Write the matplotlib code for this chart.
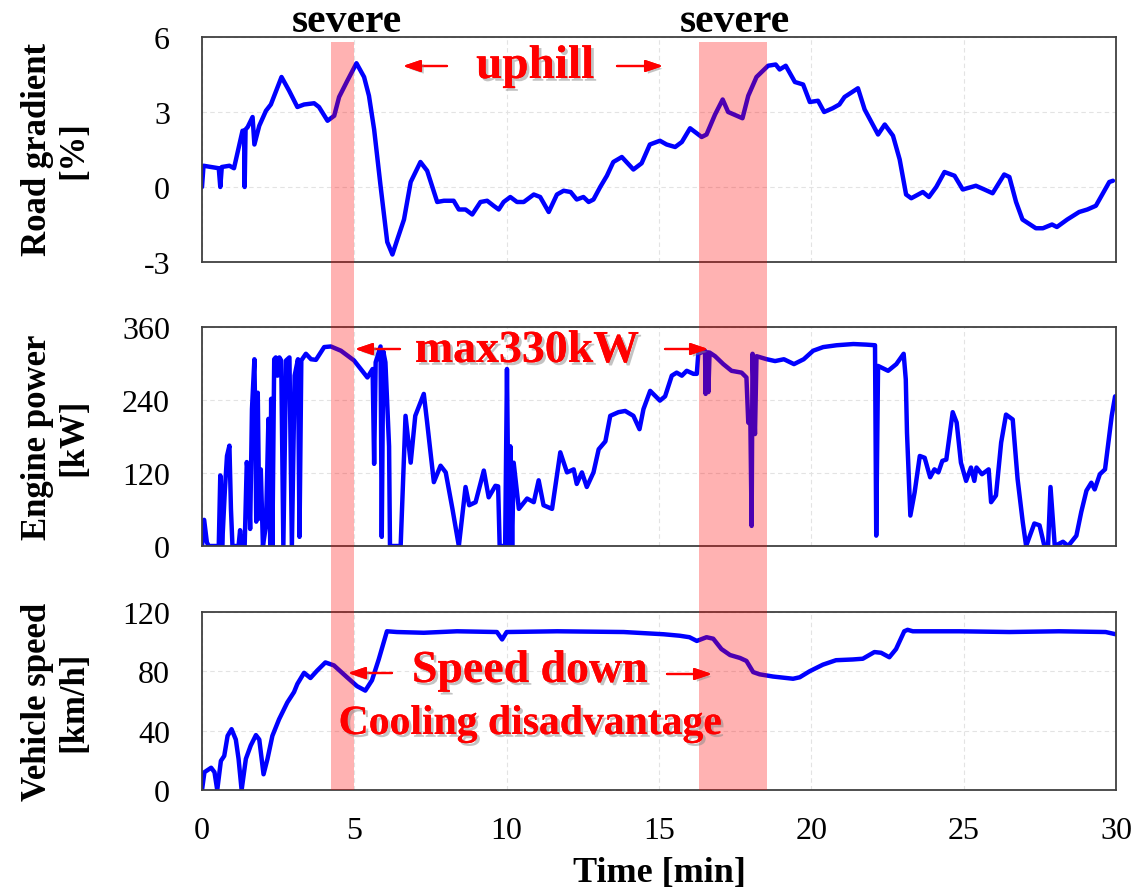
import matplotlib
matplotlib.use("Agg")
import matplotlib.pyplot as plt
import matplotlib.patheffects as pe
import matplotlib.transforms as mtransforms
from matplotlib.patches import Rectangle, FancyArrowPatch

# ---------------- data ----------------
grad_t = [0, 0.05, 0.3, 0.55, 0.6, 0.65, 0.9, 1.05, 1.17, 1.33,
          1.38, 1.4, 1.43, 1.5, 1.66, 1.72, 1.88, 2.1, 2.26, 2.61,
          2.86, 3.13, 3.35, 3.68, 3.84, 4.12, 4.34, 4.5, 4.77, 5.07,
          5.32, 5.48, 5.65, 5.86, 6.08, 6.25, 6.41, 6.63, 6.85, 7.17,
          7.39, 7.72, 7.94, 8.26, 8.43, 8.65, 8.87, 9.14, 9.36, 9.57,
          9.74, 9.9, 10.12, 10.34, 10.56, 10.89, 11.1, 11.38, 11.65, 11.87,
          12.1, 12.3, 12.52, 12.69, 12.85, 13.07, 13.29, 13.5, 13.78, 14.16,
          14.43, 14.7, 15.03, 15.25, 15.53, 15.75, 16.02, 16.4, 16.56, 16.84,
          17.09, 17.27, 17.55, 17.74, 17.93, 18.2, 18.58, 18.83, 18.96, 19.16,
          19.46, 19.73, 19.95, 20.22, 20.42, 20.7, 20.92, 21.09, 21.53, 21.75,
          21.97, 22.19, 22.41, 22.68, 22.9, 23.11, 23.28, 23.66, 23.86, 24.1,
          24.37, 24.7, 24.97, 25.4, 25.68, 25.95, 26.33, 26.5, 26.72, 26.93,
          27.37, 27.6, 27.9, 28.06, 28.4, 28.79, 29.06, 29.34, 29.55, 29.78,
          29.9]
grad_v = [0, 0.85, 0.8, 0.75, 0, 0.8, 0.85, 0.75, 1.4, 2.25,
          2.25, 0, 2.3, 2.4, 2.8, 1.7, 2.45, 3.05, 3.3, 4.4,
          3.85, 3.2, 3.3, 3.35, 3.2, 2.65, 2.85, 3.6, 4.25, 4.95,
          4.4, 3.65, 2.3, 0.05, -2.2, -2.7, -2.1, -1.3, 0.2, 1.0,
          0.65, -0.6, -0.55, -0.55, -0.9, -0.9, -1.1, -0.6, -0.55, -0.75,
          -0.9, -0.6, -0.4, -0.6, -0.6, -0.3, -0.4, -1.0, -0.3, -0.15,
          -0.2, -0.5, -0.4, -0.6, -0.5, 0.0, 0.45, 1.0, 1.2, 0.7,
          0.95, 1.7, 1.85, 1.7, 1.6, 1.8, 2.35, 2.0, 2.1, 2.9,
          3.5, 3.0, 2.85, 2.75, 3.65, 4.4, 4.85, 4.9, 4.7, 4.85,
          4.2, 4.1, 3.4, 3.45, 3.0, 3.15, 3.3, 3.6, 3.95, 3.1,
          2.6, 2.1, 2.5, 2.05, 1.1, -0.3, -0.45, -0.2, -0.4, 0.0,
          0.6, 0.45, -0.1, 0.05, -0.1, -0.25, 0.5, 0.4, -0.6, -1.3,
          -1.65, -1.65, -1.5, -1.6, -1.3, -1.0, -0.9, -0.75, -0.3, 0.2,
          0.25]

power_t = [0, 0.07, 0.16, 0.22, 0.55, 0.6, 0.66, 0.75, 0.82, 0.9,
           0.95, 1.0, 1.2, 1.25, 1.3, 1.4, 1.47, 1.53, 1.58, 1.64,
           1.72, 1.75, 1.78, 1.83, 1.88, 1.93, 2.0, 2.1, 2.18, 2.24,
           2.27, 2.31, 2.37, 2.42, 2.48, 2.54, 2.6, 2.67, 2.76, 2.87,
           2.95, 3.04, 3.15, 3.2, 3.26, 3.41, 3.58, 3.74, 4.01, 4.23,
           4.56, 4.99, 5.21, 5.43, 5.6, 5.65, 5.7, 5.86, 5.9, 5.95,
           6.02, 6.14, 6.17, 6.52, 6.68, 6.85, 7.0, 7.28, 7.39, 7.61,
           7.83, 8.0, 8.22, 8.43, 8.65, 8.77, 8.98, 9.25, 9.41, 9.63,
           9.72, 9.77, 9.95, 10.01, 10.07, 10.12, 10.18, 10.23, 10.4, 10.67,
           10.89, 11.05, 11.21, 11.49, 11.76, 11.98, 12.2, 12.3, 12.47, 12.63,
           12.85, 13.02, 13.24, 13.4, 13.67, 13.89, 14.16, 14.36, 14.49, 14.71,
           15.03, 15.2, 15.42, 15.58, 15.75, 15.91, 16.13, 16.24, 16.29, 16.51,
           16.53, 16.56, 16.6, 16.62, 16.66, 16.84, 17.11, 17.38, 17.71, 17.87,
           17.93, 18.0, 18.04, 18.07, 18.15, 18.2, 18.54, 18.81, 19.1, 19.43,
           19.75, 20.06, 20.39, 20.83, 21.38, 21.81, 22.09, 22.13, 22.19, 22.52,
           22.79, 23.03, 23.1, 23.14, 23.25, 23.39, 23.56, 23.72, 23.9, 24.04,
           24.17, 24.3, 24.43, 24.64, 24.77, 24.91, 25.08, 25.24, 25.35, 25.42,
           25.6, 25.82, 25.9, 26.06, 26.23, 26.39, 26.61, 26.77, 26.94, 27.05,
           27.32, 27.49, 27.65, 27.77, 27.85, 27.99, 28.26, 28.43, 28.7, 28.86,
           29.03, 29.19, 29.3, 29.47, 29.64, 29.75, 29.86, 29.97]
power_v = [0, 43, 6, 0, 0, 116, 0, 91, 148, 165,
           61, 0, 0, 26, 0, 0, 138, 110, 28, 225,
           307, 200, 40, 252, 45, 126, 0, 34, 209, 0,
           242, 0, 307, 310, 280, 310, 305, 0, 305, 310,
           0, 280, 307, 15, 305, 316, 307, 306, 327, 328,
           321, 305, 291, 277, 291, 135, 302, 328, 15, 320,
           302, 164, 0, 0, 214, 137, 214, 250, 203, 105,
           132, 121, 61, 0, 97, 67, 72, 124, 80, 99,
           98, 0, 0, 291, 0, 164, 0, 137, 61, 78,
           72, 108, 67, 61, 154, 121, 126, 102, 121, 97,
           121, 159, 172, 214, 220, 222, 214, 192, 225, 255,
           239, 246, 280, 285, 280, 288, 283, 283, 316, 321,
           250, 318, 318, 253, 318, 312, 299, 288, 285, 277,
           203, 200, 33, 316, 184, 312, 307, 304, 307, 299,
           307, 321, 327, 330, 332, 331, 330, 17, 296, 288,
           299, 316, 274, 186, 50, 88, 148, 145, 113, 126,
           121, 140, 142, 220, 203, 137, 107, 129, 107, 129,
           118, 126, 72, 83, 170, 216, 208, 110, 39, 0,
           37, 34, 0, 0, 97, 0, 7, 0, 17, 56,
           91, 104, 93, 118, 126, 170, 214, 246]

speed_t = [0, 0.08, 0.3, 0.41, 0.5, 0.62, 0.73, 0.84, 0.97, 1.11,
           1.2, 1.3, 1.44, 1.6, 1.77, 1.88, 2.02, 2.15, 2.31, 2.53,
           2.8, 3.02, 3.13, 3.35, 3.56, 3.78, 4.05, 4.33, 4.76, 5.09,
           5.36, 5.58, 5.8, 6.07, 6.4, 7.28, 8.37, 9.68, 9.85, 10.0,
           11.66, 13.84, 15.15, 15.68, 16.0, 16.24, 16.56, 16.78, 17.05, 17.33,
           17.66, 17.87, 18.09, 18.3, 18.74, 19.4, 19.62, 19.94, 20.38, 20.81,
           21.36, 21.69, 22.07, 22.29, 22.56, 22.78, 23.05, 23.16, 23.33, 24.86,
           26.5, 28.13, 29.66, 29.99]
speed_v = [0, 12, 15, 12, 0, 19.6, 23, 36.5, 41, 34,
           21, 0, 21, 30, 37, 34, 10.6, 21, 36.5, 47.7,
           59, 66, 71.5, 79, 75.5, 80.5, 86, 84, 76, 70,
           67, 74, 88, 107, 106.5, 106, 107, 106.5, 101.5, 106.5,
           107, 106.5, 105, 104, 103, 100.5, 103, 102, 95, 91,
           89, 87, 79.5, 78, 76.5, 75, 76, 80, 84.5, 87.5,
           88, 88.5, 93, 92.5, 89.5, 95, 107, 108, 107, 107,
           106.5, 107, 106.5, 105]

severe_spans = [(4.23, 4.98), (16.3, 18.54)]
x_ticks = [0, 5, 10, 15, 20, 25, 30]
grad_ticks = [-3, 0, 3, 6]
power_ticks = [0, 120, 240, 360]
speed_ticks = [0, 40, 80, 120]

# ---------------- style ----------------
plt.rcParams['font.family'] = ['Liberation Serif', 'DejaVu Serif']
plt.rcParams['axes.unicode_minus'] = False
W, H = 1140, 895
fig = plt.figure(figsize=(W / 100, H / 100), dpi=100)

def fx(px):
    return px / W

def fy(py):
    return 1 - py / H

L, R = 202, 1116
ax1 = fig.add_axes([fx(L), fy(263), fx(R - L), (263 - 38) / H])
ax2 = fig.add_axes([fx(L), fy(547), fx(R - L), (547 - 328) / H])
ax3 = fig.add_axes([fx(L), fy(791), fx(R - L), (791 - 613) / H])

line_kw = dict(color='#0000ff', lw=3.2, solid_joinstyle='round', solid_capstyle='round')
ax1.plot(grad_t, grad_v, **line_kw)
ax2.plot(power_t, power_v, **line_kw)
ax3.plot(speed_t, speed_v, **line_kw)

for ax, ticks in ((ax1, grad_ticks), (ax2, power_ticks), (ax3, speed_ticks)):
    ax.set_xlim(0, 30)
    ax.set_ylim(ticks[0], ticks[-1])
    ax.set_yticks(ticks)
    ax.set_xticks(x_ticks)
    ax.grid(True, color='#e3e3e3', lw=0.8, ls=(0, (4, 3)))
    ax.set_axisbelow(True)
    ax.tick_params(length=0, labelsize=23)
    ax.tick_params(axis='y', pad=23)
    for s in ax.spines.values():
        s.set_color('#404040')
        s.set_linewidth(1.3)
    if ax is not ax3:
        ax.tick_params(labelbottom=False)
ax3.tick_params(axis='x', pad=19)

ylab_kw = dict(fontsize=25, fontweight='bold', rotation=90, ha='center', va='center',
               linespacing=1.12)
fig.text(fx(56), fy(150), "Road gradient\n[%]", **ylab_kw)
fig.text(fx(56), fy(437), "Engine power\n[kW]", **ylab_kw)
fig.text(fx(56), fy(702), "Vehicle speed\n[km/h]", **ylab_kw)
fig.text(fx(659), fy(874), "Time [min]", fontsize=26, fontweight='bold',
         ha='center', va='center')

# severe shading spanning all panels
trans = mtransforms.blended_transform_factory(ax3.transData, fig.transFigure)
for a, b in severe_spans:
    fig.patches.append(Rectangle((a, fy(791)), b - a, fy(43) - fy(791), transform=trans,
                                 facecolor='#ff0000', alpha=0.3, edgecolor='none',
                                 zorder=5))

fig.text(fx(347), fy(22), "severe", fontsize=30, fontweight='bold', ha='center', va='center')
fig.text(fx(735), fy(22), "severe", fontsize=30, fontweight='bold', ha='center', va='center')

shadow = [pe.withSimplePatchShadow(offset=(2, -2), shadow_rgbFace='#888888', alpha=0.5),
          pe.Normal()]
red_kw = dict(color='#ff0000', fontweight='bold', ha='center', va='center',
              path_effects=shadow, zorder=10)
fig.text(fx(535), fy(68), "uphill", fontsize=34, **red_kw)
fig.text(fx(527), fy(352), "max330kW", fontsize=33, **red_kw)
fig.text(fx(530), fy(672), "Speed down", fontsize=33, **red_kw)
fig.text(fx(530), fy(725), "Cooling disadvantage", fontsize=30, **red_kw)

# red arrows (tail_x, head_x, y) in pixels
arrows = [(447, 403, 67), (617, 663, 67),
          (400, 355, 350), (665, 708, 350),
          (392, 348, 674), (667, 712, 675)]
for x0, x1, yy in arrows:
    arr = FancyArrowPatch((fx(x0), fy(yy)), (fx(x1), fy(yy)), transform=fig.transFigure,
                          arrowstyle='-|>,head_length=0.65,head_width=0.22',
                          mutation_scale=16, lw=1.6, color='#ff0000',
                          shrinkA=0, shrinkB=0, zorder=10,
                          path_effects=[pe.withSimplePatchShadow(offset=(2, -2),
                                                                 shadow_rgbFace='#888888',
                                                                 alpha=0.5),
                                        pe.Normal()])
    fig.patches.append(arr)

fig.savefig("out.png", dpi=100)
